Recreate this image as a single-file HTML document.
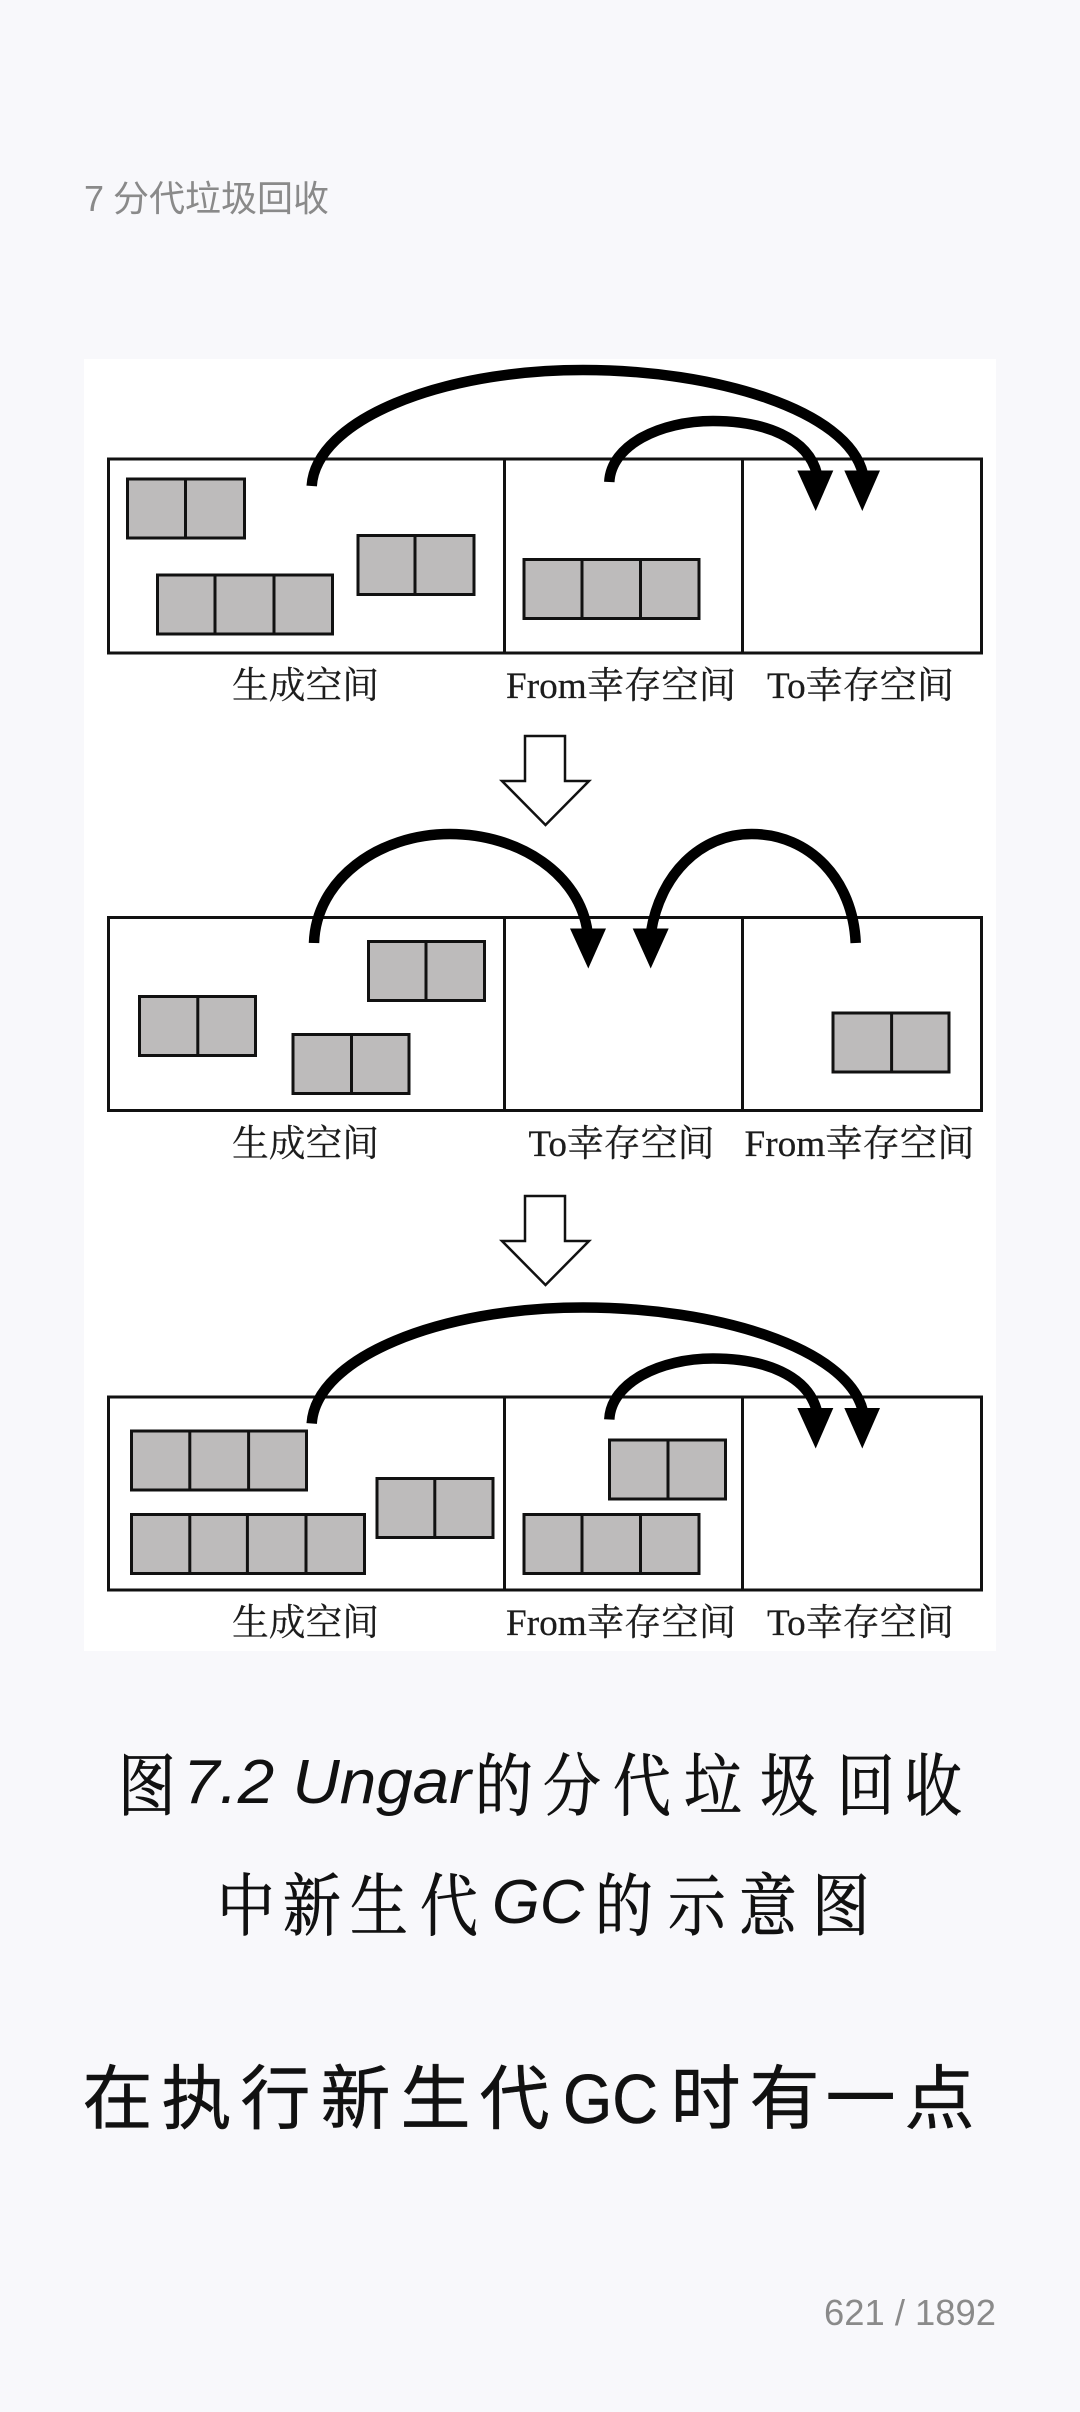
<!DOCTYPE html>
<html lang="zh"><head><meta charset="utf-8"><title>分代垃圾回收</title>
<style>
html,body{margin:0;padding:0;width:1080px;height:2412px;background:#f8f8fb;overflow:hidden}
svg{display:block}
.lb{font-family:"Liberation Serif","Noto Serif CJK SC",serif;font-size:37px;fill:#1c1c1c;stroke:#1c1c1c;stroke-width:.25}
.cap{font-family:"Noto Serif CJK SC",serif;font-size:68px;fill:#111;stroke:#111;stroke-width:.8}
.lat{font-family:"Liberation Sans",sans-serif;font-style:italic;font-size:62px;fill:#111}
.para{font-family:"Liberation Sans","Noto Sans CJK SC",sans-serif;font-size:70px;fill:#111;stroke:#111;stroke-width:.5}
.hd{font-family:"Liberation Sans","Noto Sans CJK SC",sans-serif;font-size:36px;fill:#8a8a8a}
.ft{font-family:"Liberation Sans",sans-serif;font-size:36px;fill:#8a8a8a}
.box{fill:none;stroke:#111;stroke-width:3}
.blk{fill:#bdbbbb;stroke:#111;stroke-width:3}
.dv{stroke:#111;stroke-width:3}
.arc{fill:none;stroke:#000;stroke-width:10.5}
.ha{fill:#fff;stroke:#111;stroke-width:2.5}
</style></head><body>
<svg width="1080" height="2412" viewBox="0 0 1080 2412" xmlns="http://www.w3.org/2000/svg">
<text class="hd" x="84" y="211">7</text>
<text class="hd" x="113 149 185 221 257 293" y="211">分代垃圾回收</text>
<rect x="84" y="359" width="912" height="1292" fill="#fff"/>

<!-- Diagram 1 -->
<rect class="box" x="108.5" y="459" width="873" height="194"/>
<path class="dv" d="M504.5 459V653M742.5 459V653"/>
<rect class="blk" x="127.5" y="479" width="117" height="59"/><path class="dv" d="M185.5 479v59"/>
<rect class="blk" x="157.5" y="575" width="175" height="59"/><path class="dv" d="M215 575v59M274 575v59"/>
<rect class="blk" x="358" y="535.5" width="116" height="59"/><path class="dv" d="M415 535.5v59"/>
<rect class="blk" x="524" y="559.5" width="175" height="59"/><path class="dv" d="M582 559.5v59M640.5 559.5v59"/>
<path class="arc" d="M311.7 486C316 420 440 370 583 370C715 370 848 410 863 474"/>
<path class="arc" d="M609.3 482C611 445 660 421 713 421C765 421 808 438 817 474"/>
<path d="M844.3 470.5H880L862.3 511Z"/><path d="M797.3 470.5H833.3L815.7 511Z"/>
<text class="lb" x="232" y="698" textLength="147" lengthAdjust="spacingAndGlyphs">生成空间</text>
<text class="lb" x="506" y="698" textLength="230" lengthAdjust="spacingAndGlyphs">From幸存空间</text>
<text class="lb" x="767" y="698" textLength="187" lengthAdjust="spacingAndGlyphs">To幸存空间</text>

<!-- Hollow arrow 1 -->
<path class="ha" d="M525 736H565V781H589L545.5 825L502 781H525Z"/>

<!-- Diagram 2 -->
<rect class="box" x="108.5" y="917.5" width="873" height="193"/>
<path class="dv" d="M504.5 917.5V1110.5M742.5 917.5V1110.5"/>
<rect class="blk" x="368.5" y="941.5" width="116" height="59"/><path class="dv" d="M426 941.5v59"/>
<rect class="blk" x="139.5" y="996.5" width="116" height="59"/><path class="dv" d="M197.8 996.5v59"/>
<rect class="blk" x="293" y="1034.5" width="116" height="59"/><path class="dv" d="M351.5 1034.5v59"/>
<rect class="blk" x="833" y="1013" width="116" height="59"/><path class="dv" d="M891.6 1013v59"/>
<path class="arc" d="M314 943C316 880 378 834 450 834C520 834 580 875 587.5 932"/>
<path class="arc" d="M855.7 943C853 880 810 834 751.7 834C700 834 660 875 651 932"/>
<path d="M570 928.5H606L588.3 968.5Z"/><path d="M632.7 928.5H668.7L650.7 968.5Z"/>
<text class="lb" x="232" y="1156" textLength="147" lengthAdjust="spacingAndGlyphs">生成空间</text>
<text class="lb" x="528.5" y="1156" textLength="186" lengthAdjust="spacingAndGlyphs">To幸存空间</text>
<text class="lb" x="744.5" y="1156" textLength="230" lengthAdjust="spacingAndGlyphs">From幸存空间</text>

<!-- Hollow arrow 2 -->
<path class="ha" d="M525 1196H565V1241H589L545.5 1285L502 1241H525Z"/>

<!-- Diagram 3 -->
<rect class="box" x="108.5" y="1397" width="873" height="193"/>
<path class="dv" d="M504.5 1397V1590M742.5 1397V1590"/>
<rect class="blk" x="131.5" y="1431" width="175" height="59"/><path class="dv" d="M189.8 1431v59M248.6 1431v59"/>
<rect class="blk" x="131.5" y="1514.5" width="233" height="59"/><path class="dv" d="M189.8 1514.5v59M247.4 1514.5v59M306 1514.5v59"/>
<rect class="blk" x="377" y="1478.5" width="116" height="59"/><path class="dv" d="M434.8 1478.5v59"/>
<rect class="blk" x="609.5" y="1440" width="116" height="59"/><path class="dv" d="M668 1440v59"/>
<rect class="blk" x="524" y="1514.5" width="175" height="59"/><path class="dv" d="M582 1514.5v59M640.5 1514.5v59"/>
<g transform="translate(0 937.5)">
<path class="arc" d="M311.7 486C316 420 440 370 583 370C715 370 848 410 863 474"/>
<path class="arc" d="M609.3 482C611 445 660 421 713 421C765 421 808 438 817 474"/>
<path d="M844.3 470.5H880L862.3 511Z"/><path d="M797.3 470.5H833.3L815.7 511Z"/>
</g>
<text class="lb" x="232" y="1635" textLength="147" lengthAdjust="spacingAndGlyphs">生成空间</text>
<text class="lb" x="506" y="1635" textLength="230" lengthAdjust="spacingAndGlyphs">From幸存空间</text>
<text class="lb" x="767" y="1635" textLength="187" lengthAdjust="spacingAndGlyphs">To幸存空间</text>

<!-- Caption -->
<g transform="scale(.85 1)">
<text class="cap" x="138.8" y="1810">图</text>
<text class="cap" x="558.8 638.8 721.2 804.7 894.1 984.7 1063.5" y="1810">的分代垃圾回收</text>
<text class="cap" x="255.3 332.9 411.8 494.1" y="1930">中新生代</text>
<text class="cap" x="700 785.9 869.4 955.3" y="1930">的示意图</text>
</g>
<text class="lat" x="183" y="1803" textLength="288" lengthAdjust="spacingAndGlyphs">7.2 Ungar</text>
<text class="lat" x="492" y="1923" textLength="92" lengthAdjust="spacingAndGlyphs">GC</text>

<!-- Paragraph -->
<text class="para" x="82.5 161.5 240.5 320.5 400.5 479.5" y="2123">在执行新生代</text>
<text class="para" x="563" y="2123" textLength="95" lengthAdjust="spacingAndGlyphs">GC</text>
<text class="para" x="670.5 749.5 825.5 904.5" y="2123">时有一点</text>

<text class="ft" x="824" y="2325" textLength="172" lengthAdjust="spacingAndGlyphs">621 / 1892</text>
</svg>
</body></html>
